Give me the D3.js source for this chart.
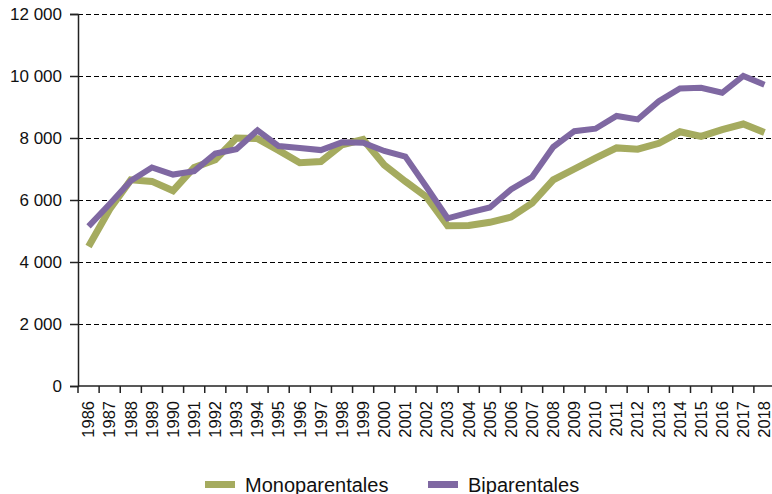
<!DOCTYPE html>
<html>
<head>
<meta charset="utf-8">
<script src="https://cdn.jsdelivr.net/npm/d3@7"></script>
<style>
    body { margin: 0; background: #fff; }
    svg { display: block; font-family: "Liberation Sans", Arial, sans-serif; }
</style>
</head>
<body>
<svg id="chart" width="772" height="494"></svg>
<script>
const years = ["1986","1987","1988","1989","1990","1991","1992","1993","1994","1995","1996",
    "1997","1998","1999","2000","2001","2002","2003","2004","2005","2006","2007","2008",
    "2009","2010","2011","2012","2013","2014","2015","2016","2017","2018"];

const monoparentales = [4500, 5700, 6650, 6600, 6300, 7050, 7300, 8000, 7980, 7600, 7200,
    7240, 7780, 7950, 7130, 6600, 6100, 5170, 5180, 5280, 5450, 5900, 6650,
    7000, 7350, 7680, 7640, 7830, 8200, 8050, 8270, 8450, 8180];

const biparentales = [5150, 5870, 6620, 7050, 6820, 6930, 7500, 7640, 8250, 7740, 7680,
    7610, 7860, 7850, 7580, 7400, 6420, 5410, 5590, 5760, 6340, 6740, 7710,
    8220, 8300, 8710, 8600, 9190, 9600, 9620, 9460, 10000, 9720];

const yTicks = [0, 2000, 4000, 6000, 8000, 10000, 12000];

const seriesNames = ["Monoparentales", "Biparentales"];
const seriesColors = ["#a5ab5f", "#7f68a2"];

const svg = d3.select("#chart");
const plotLeft = 78, plotRight = 775, plotTop = 14, plotBottom = 386;

const x = d3.scaleBand().domain(years).range([plotLeft, plotRight]);
const y = d3.scaleLinear().domain([0, 12000]).range([plotBottom, plotTop]);

const fmt = v => d3.format(",")(v).replace(/,/g, " ");

// Dashed gridlines (not at zero).
svg.append("g")
    .selectAll("line")
    .data(yTicks.filter(d => d > 0))
    .join("line")
    .attr("x1", plotLeft)
    .attr("x2", plotRight)
    .attr("y1", d => y(d) + 0.5)
    .attr("y2", d => y(d) + 0.5)
    .attr("stroke", "#000")
    .attr("stroke-width", 1)
    .attr("shape-rendering", "crispEdges")
    .attr("stroke-dasharray", "5,3");

// Y axis.
const yAxis = svg.append("g")
    .attr("transform", `translate(${plotLeft},0)`)
    .call(d3.axisLeft(y).tickValues(yTicks).tickFormat(fmt).tickSize(8).tickPadding(8));
yAxis.select(".domain").attr("stroke", "#222").attr("stroke-width", 1.5);
yAxis.selectAll(".tick line").attr("stroke", "#222").attr("stroke-width", 1.5);
yAxis.selectAll("text")
    .attr("font-size", 17)
    .attr("fill", "#111")
    .attr("font-family", "Liberation Sans, Arial, sans-serif");

// X axis, ticks between the years.
const xAxis = svg.append("g")
    .attr("transform", `translate(0,${plotBottom})`)
    .call(d3.axisBottom(x).tickSize(0).tickPadding(0));
xAxis.select(".domain").remove();
xAxis.append("line")
    .attr("x1", plotLeft).attr("x2", plotRight)
    .attr("stroke", "#222").attr("stroke-width", 1.5);
xAxis.selectAll(".tick line").remove();
xAxis.selectAll(".sep")
    .data(years)
    .join("line")
    .attr("class", "sep")
    .attr("x1", d => x(d))
    .attr("x2", d => x(d))
    .attr("y1", 0)
    .attr("y2", 7)
    .attr("stroke", "#222")
    .attr("stroke-width", 1.5);
xAxis.selectAll(".tick text")
    .attr("font-size", 16.5)
    .attr("fill", "#111")
    .attr("font-family", "Liberation Sans, Arial, sans-serif")
    .attr("transform", "rotate(-90)")
    .attr("text-anchor", "end")
    .attr("x", -15)
    .attr("y", 0)
    .attr("dy", "0.35em");

// Lines.
const line = d3.line()
    .x((d, i) => x(years[i]) + x.bandwidth() / 2)
    .y(d => y(d));

[monoparentales, biparentales].forEach((data, i) => {
    svg.append("path")
        .datum(data)
        .attr("fill", "none")
        .attr("stroke", seriesColors[i])
        .attr("stroke-width", i === 0 ? 7 : 6)
        .attr("d", line);
});

// Legend.
const legendX = [205, 428];
seriesNames.forEach((name, i) => {
    const g = svg.append("g").attr("transform", `translate(${legendX[i]},484.5)`);
    g.append("rect")
        .attr("x", 0).attr("y", -3.5)
        .attr("width", 30).attr("height", 7)
        .attr("fill", seriesColors[i]);
    g.append("text")
        .attr("x", 40)
        .attr("y", 0)
        .attr("dy", "0.35em")
        .attr("font-size", 20)
        .attr("fill", "#111")
        .text(name);
});
</script>
</body>
</html>
